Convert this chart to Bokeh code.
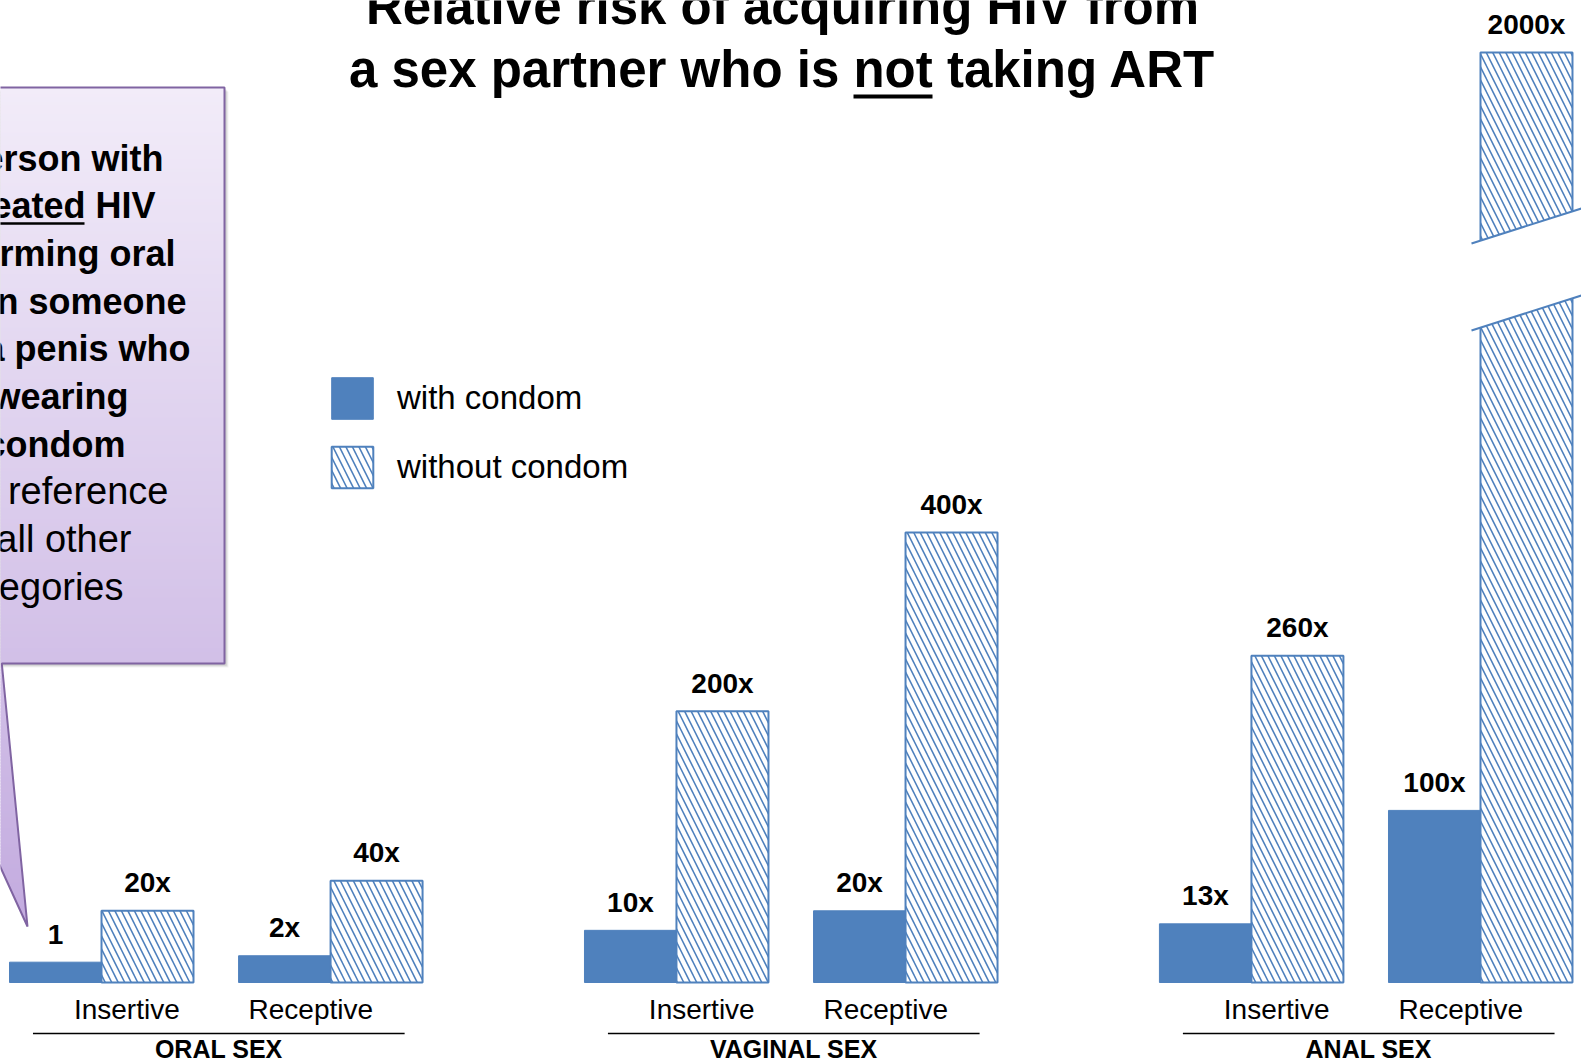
import numpy as np
from bokeh.plotting import figure
from bokeh.models import (ColumnDataSource, FactorRange, Range1d, CustomJSTransform,
                          Legend, LegendItem)
from bokeh.transform import transform
from bokeh.core.properties import value
from bokeh.embed import file_html
from bokeh.resources import INLINE

# ---- data -------------------------------------------------------------
groups = ["ORAL SEX", "VAGINAL SEX", "ANAL SEX"]
acts = ["Insertive", "Receptive"]
conditions = ["with condom", "without condom"]

with_condom = [1, 2, 10, 20, 13, 100]
without_condom = [20, 40, 200, 400, 260, 2000]
with_labels = ["1", "2x", "10x", "20x", "13x", "100x"]
without_labels = ["20x", "40x", "200x", "400x", "260x", "2000x"]

title_lines = ["Relative risk of acquiring HIV from",
               "a sex partner who is not taking ART"]
note_bold = ["Person with", "untreated HIV", "performing oral", "sex on someone",
             "with a penis who", "is not wearing", "a condom"]
note_plain = ["is the reference", "for all other", "categories"]

# ---- layout & styling --------------------------------------------------
W, H = 1581, 1063
BASE = 982                      # baseline of the bars, pixels from the top
BLUE = "#4f81bd"
PURPLE = "#8064a2"
FONT_NAME = "Liberation Sans"
FONT = value(FONT_NAME)
ASC = 0.385                     # alphabetic baseline correction, in em

SUB_PAD, GROUP_PAD, XPAD = 0.49, 1.76, 0.098

pairs = [(g, a) for g in groups for a in acts]
factors = [(g, a, c) for g, a in pairs for c in conditions]

x_range = FactorRange(*factors, factor_padding=0.0, subgroup_padding=SUB_PAD,
                      group_padding=GROUP_PAD, range_padding=XPAD,
                      range_padding_units="absolute")

# synthetic extent of the factor range, used to place the decorations
SPAN = len(factors) + len(groups) * SUB_PAD + (len(groups) - 1) * GROUP_PAD
X0, X1 = -XPAD, SPAN + XPAD


def sx(px):
    """page pixel column -> synthetic x coordinate"""
    return X0 + np.asarray(px, dtype=float) * (X1 - X0) / W


def sy(py, fs=0.0):
    """page pixel row -> height above the bar baseline (text baselines shifted by font size)"""
    return BASE - (np.asarray(py, dtype=float) - ASC * fs)


p = figure(width=W, height=H, x_range=x_range, y_range=Range1d(-(H - BASE), BASE),
           output_backend="svg", toolbar_location=None,
           x_axis_location=None, y_axis_location=None, min_border=0,
           outline_line_color=None, background_fill_color="white",
           border_fill_color="white")
p.grid.visible = False

# compressed value scale with a break above 400x
risk_scale = CustomJSTransform(
    args=dict(a=-2.3, b=0.7275, c=21.9, brk=400.0, k=0.3),
    func="""
        const v = Math.min(x, brk)
        return a + b*v + c*Math.cbrt(v) + Math.max(x - brk, 0)*k
    """,
    v_func="""
        const out = new Float64Array(xs.length)
        for (let i = 0; i < xs.length; i++) {
            const v = Math.min(xs[i], brk)
            out[i] = a + b*v + c*Math.cbrt(v) + Math.max(xs[i] - brk, 0)*k
        }
        return out
    """)

src_with = ColumnDataSource(dict(x=[(g, a, conditions[0]) for g, a in pairs],
                                 risk=with_condom, label=with_labels))
src_without = ColumnDataSource(dict(x=[(g, a, conditions[1]) for g, a in pairs],
                                    risk=without_condom, label=without_labels))

r_with = p.vbar(x="x", top=transform("risk", risk_scale), bottom=0, width=1.0,
                source=src_with, fill_color=BLUE, line_color=BLUE, line_width=1)
r_without = p.vbar(x="x", top=transform("risk", risk_scale), bottom=0, width=1.0,
                   source=src_without, fill_color="white", line_color=BLUE,
                   line_width=2, hatch_pattern="\\", hatch_color=BLUE,
                   hatch_scale=13, hatch_weight=1.6)

for src in (src_with, src_without):
    p.text(x="x", y=transform("risk", risk_scale), text="label", source=src,
           text_align="center", text_baseline="alphabetic", y_offset=-28,
           text_font=FONT, text_font_style="bold", text_font_size="28px",
           text_color="black")

# axis break on the tallest bar
slope = -35.0 / 110.0
bx0, bx1 = 1471.0, 1581.0
ty0, by0 = 243.0, 330.0
dy = slope * (bx1 - bx0)
p.patch(sx([bx0 - 6, bx1, bx1, bx0 - 6]),
        sy([ty0 - 6 * slope, ty0 + dy, by0 + dy, by0 - 6 * slope]),
        fill_color="white", line_color=None)
p.segment(x0=sx([bx0, bx0]), y0=sy([ty0, by0]), x1=sx([bx1, bx1]),
          y1=sy([ty0 + dy, by0 + dy]), line_color=BLUE, line_width=2)

# category labels under the bars
act_offset = {"Insertive": -0.97, "Receptive": 1.03}
p.text(x=[(g, act_offset[a]) for g, a in pairs], y=sy([1020] * len(pairs), 28),
       text=[a for g, a in pairs], text_align="center", text_baseline="alphabetic",
       text_font=FONT, text_font_size="28px", text_color="black")
p.segment(x0=[(g, -1.99) for g in groups], x1=[(g, 2.05) for g in groups],
          y0=sy([1033] * 3), y1=sy([1033] * 3),
          line_color="black", line_width=1.5)
p.text(x=[(g, 0.03) for g in groups], y=sy([1058] * 3, 25), text=groups,
       text_align="center", text_baseline="alphabetic", text_font=FONT,
       text_font_style="bold", text_font_size="25px", text_color="black")

# title
p.text(x=sx([782, 782]), y=sy([26, 89], 51), text=title_lines,
       text_align="center", text_baseline="alphabetic",
       text_font=FONT, text_font_style="bold", text_font_size="51px",
       text_color="black")
p.segment(x0=sx([853]), x1=sx([932]), y0=sy([96]), y1=sy([96]),
          line_color="black", line_width=4)

# callout box with a pointer to the reference bar
box_l, box_r, box_t, box_b = -30.0, 224.0, 87.0, 663.0
tip = (27.0, 926.0)
base_left, base_right = -93.0, 1.3
c_top = np.array([242, 236, 249])
c_bot = np.array([195, 171, 223])


def shade(y):
    t = (y - box_t) / (tip[1] - box_t)
    r, g, b = (c_top + (c_bot - c_top) * t).round().astype(int)
    return "#%02x%02x%02x" % (r, g, b)


for d, a in ((4, 0.05), (3, 0.07), (2, 0.09)):
    p.quad(left=sx([box_l]), right=sx([box_r + d]), top=sy([box_t + d]),
           bottom=sy([box_b + d]), fill_color="black", fill_alpha=a, line_color=None)

step = 3.0
ys = np.arange(box_t, box_b, step)
p.quad(left=sx(np.full(len(ys), box_l)), right=sx(np.full(len(ys), box_r)),
       top=sy(ys), bottom=sy(np.minimum(ys + step + 1, box_b)),
       fill_color=[shade(y + step / 2) for y in ys], line_color=None)


def edge(x_base, y):
    return x_base + (tip[0] - x_base) * (y - box_b) / (tip[1] - box_b)


pxs, pys, pcols = [], [], []
for y0 in np.arange(box_b, tip[1], step):
    y1 = min(y0 + step + 1, tip[1])
    pxs.append(list(sx([edge(base_left, y0), edge(base_right, y0),
                        edge(base_right, y1), edge(base_left, y1)])))
    pys.append(list(sy([y0, y0, y1, y1])))
    pcols.append(shade(y0 + step / 2))
p.patches(pxs, pys, fill_color=pcols, line_color=None)

p.line(sx([box_l, box_r, box_r, base_right, tip[0], base_left]),
       sy([box_t, box_t, box_b, box_b, tip[1], box_b]),
       line_color=PURPLE, line_width=2)

note_right = [163, 155, 175, 186, 190, 128, 125, 168, 131, 123]
note_base = [171.5 + 47.7 * i for i in range(10)]
nb = len(note_bold)
p.text(x=sx(note_right[:nb]), y=sy(note_base[:nb], 36), text=note_bold,
       text_align="right", text_baseline="alphabetic", text_font=FONT,
       text_font_style="bold", text_font_size="36px", text_color="black")
p.text(x=sx(note_right[nb:]), y=sy(note_base[nb:], 38), text=note_plain,
       text_align="right", text_baseline="alphabetic", text_font=FONT,
       text_font_size="38px", text_color="black")
p.segment(x0=sx([-60]), x1=sx([84]), y0=sy([223]), y1=sy([223]),
          line_color="black", line_width=2.5)

# legend (the legend swatch is drawn 10% inset from its box)
legend = Legend(items=[LegendItem(label=conditions[0], renderers=[r_with]),
                       LegendItem(label=conditions[1], renderers=[r_without])],
                location=(326, H - 493), orientation="vertical",
                glyph_width=52, glyph_height=52, label_height=52,
                spacing=17, padding=0, margin=0, label_standoff=19,
                label_text_font=FONT_NAME, label_text_font_size="33px",
                label_text_color="black", border_line_alpha=0,
                background_fill_alpha=0)
p.add_layout(legend)

open("out.html", "w").write(file_html(p, INLINE))
